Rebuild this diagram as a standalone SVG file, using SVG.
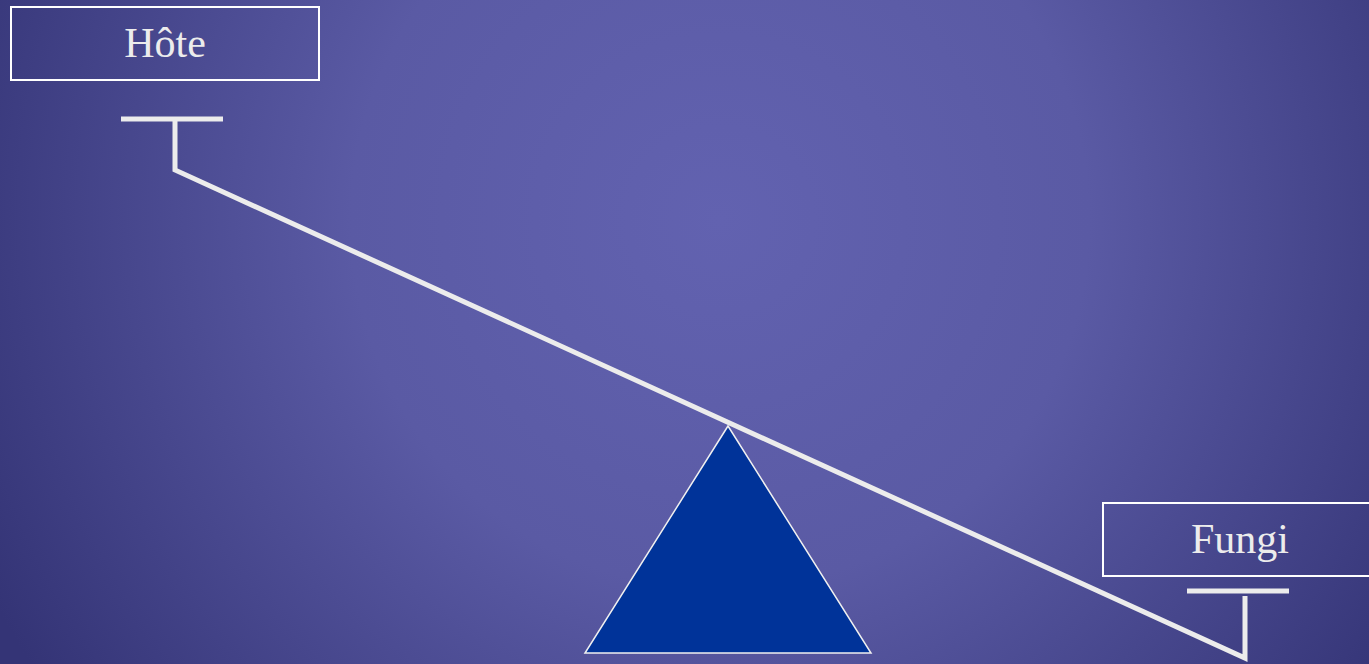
<svg xmlns="http://www.w3.org/2000/svg" width="1369" height="664" viewBox="0 0 1369 664">
<defs>
<radialGradient id="bg" gradientUnits="userSpaceOnUse" cx="720" cy="220" r="820">
<stop offset="0" stop-color="#6262b0"/>
<stop offset="0.45" stop-color="#5a5aa4"/>
<stop offset="1" stop-color="#343476"/>
</radialGradient>
<style>
.box{fill:none;stroke:#ffffff;stroke-width:2}
.lbl{font-family:"Liberation Serif","Times New Roman",serif;font-size:42px;fill:#ececec;text-anchor:middle}
.bar{stroke:#ececec;stroke-width:5;fill:none}
</style>
</defs>
<rect x="0" y="0" width="1369" height="664" fill="url(#bg)"/>
<g id="fulcrum">
<polygon points="728,426 585,653 871,653" fill="#003399" stroke="#f0f0f0" stroke-width="1.5"/>
</g>
<g id="connectors">
<path class="bar" d="M121,119 H223 M175,119 V170 L1245,658 V596 M1187,591 H1289"/>
</g>
<g id="hote">
<rect class="box" x="11" y="7" width="308" height="73"/>
<text class="lbl" x="165" y="57">Hôte</text>
</g>
<g id="fungi">
<rect class="box" x="1103" y="503" width="274" height="73"/>
<text class="lbl" x="1240" y="553">Fungi</text>
</g>
</svg>
